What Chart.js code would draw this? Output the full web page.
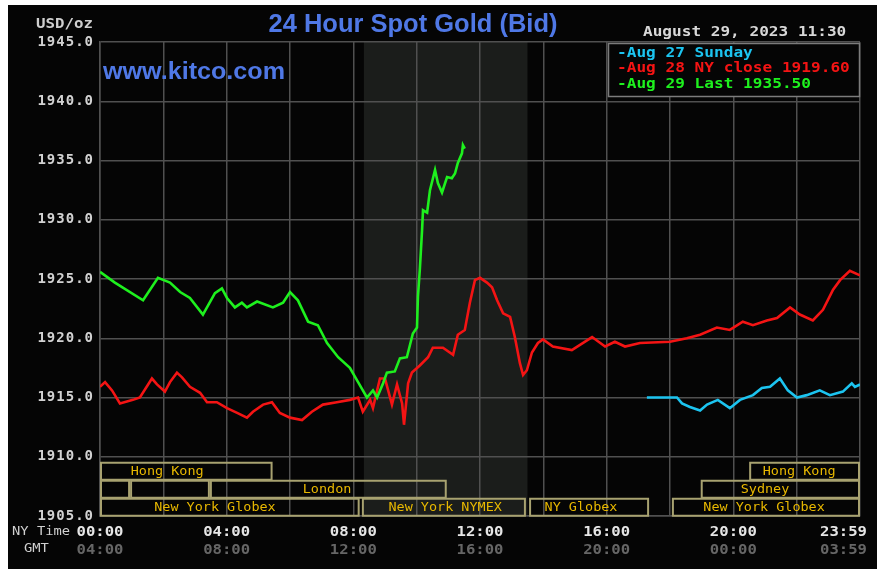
<html>
  <head>
    <script src="https://cdn.jsdelivr.net/npm/chart.js@4.4.0/dist/chart.umd.min.js"></script>
    <style>
      body { margin: 0; background: #fff; }
      #c { display: block; }
    </style>
  </head>
  <body>
    <canvas id="c" width="886" height="576"></canvas>
  </body>

  <script>
    // hours are NY time (0 = 00:00, 24 = 23:59), prices in USD/oz
    var greenH = [0, 0.47, 1.36, 1.83, 2.21, 2.53, 2.84, 3.25, 3.63, 3.85, 4.01, 4.26, 4.48, 4.64, 4.96, 5.46, 5.78, 6.0, 6.25, 6.57, 6.88, 7.17, 7.52, 7.89, 8.15, 8.43, 8.62, 8.75, 8.94, 9.06, 9.31, 9.47, 9.69, 9.88, 10.01, 10.04, 10.1, 10.17, 10.2, 10.33, 10.42, 10.58, 10.67, 10.8, 10.96, 11.11, 11.21, 11.3, 11.43, 11.46, 11.52];
    var greenP = [1925.6, 1924.7, 1923.2, 1925.1, 1924.7, 1923.9, 1923.4, 1922.0, 1923.8, 1924.2, 1923.4, 1922.6, 1923.0, 1922.6, 1923.1, 1922.6, 1923.0, 1923.9, 1923.2, 1921.4, 1921.1, 1919.6, 1918.4, 1917.5, 1916.3, 1915.0, 1915.6, 1915.0, 1916.2, 1917.1, 1917.2, 1918.3, 1918.4, 1920.4, 1920.9, 1923.5, 1925.8, 1929.1, 1930.8, 1930.6, 1932.5, 1934.2, 1933.1, 1932.3, 1933.6, 1933.5, 1933.9, 1934.8, 1935.6, 1936.3, 1936.0];

    var redH = [0, 0.16, 0.38, 0.63, 1.04, 1.26, 1.64, 1.8, 2.05, 2.21, 2.43, 2.59, 2.84, 3.16, 3.38, 3.69, 4.01, 4.33, 4.64, 4.83, 5.15, 5.43, 5.68, 6.0, 6.38, 6.69, 7.04, 7.48, 7.89, 8.15, 8.3, 8.53, 8.62, 8.84, 9.0, 9.22, 9.38, 9.54, 9.6, 9.73, 9.85, 10.1, 10.36, 10.51, 10.83, 11.15, 11.3, 11.52, 11.68, 11.84, 12.0, 12.22, 12.38, 12.54, 12.73, 12.95, 13.1, 13.26, 13.36, 13.48, 13.64, 13.83, 13.99, 14.3, 14.9, 15.54, 15.95, 16.26, 16.58, 17.05, 18.0, 18.53, 18.95, 19.48, 19.89, 20.3, 20.62, 21.06, 21.38, 21.79, 22.1, 22.51, 22.83, 23.15, 23.37, 23.68, 24.0];
    var redP = [1915.9, 1916.3, 1915.6, 1914.5, 1914.8, 1915.0, 1916.6, 1916.1, 1915.5, 1916.3, 1917.1, 1916.7, 1915.9, 1915.4, 1914.6, 1914.6, 1914.1, 1913.7, 1913.3, 1913.8, 1914.4, 1914.6, 1913.7, 1913.3, 1913.1, 1913.8, 1914.4, 1914.6, 1914.8, 1915.0, 1913.8, 1914.8, 1914.1, 1916.6, 1916.6, 1914.4, 1916.1, 1914.5, 1912.7, 1916.2, 1917.1, 1917.7, 1918.4, 1919.2, 1919.2, 1918.6, 1920.3, 1920.7, 1923.0, 1924.9, 1925.1, 1924.7, 1924.3, 1923.2, 1922.1, 1921.8, 1920.1, 1917.9, 1916.9, 1917.3, 1918.8, 1919.6, 1919.9, 1919.3, 1919.0, 1920.1, 1919.3, 1919.7, 1919.3, 1919.6, 1919.7, 1920.0, 1920.3, 1920.9, 1920.7, 1921.4, 1921.1, 1921.5, 1921.7, 1922.6, 1922.0, 1921.5, 1922.4, 1924.1, 1924.9, 1925.7, 1925.3];

    var blueH = [17.27, 18.0, 18.22, 18.38, 18.63, 18.95, 19.17, 19.51, 19.89, 20.21, 20.62, 20.9, 21.16, 21.47, 21.72, 22.01, 22.32, 22.73, 23.05, 23.46, 23.74, 23.84, 24.0];
    var blueP = [1915.0, 1915.0, 1915.0, 1914.5, 1914.2, 1913.9, 1914.4, 1914.8, 1914.1, 1914.8, 1915.2, 1915.8, 1915.9, 1916.6, 1915.6, 1915.0, 1915.2, 1915.6, 1915.2, 1915.5, 1916.2, 1915.9, 1916.1];

    var seriesLabels = ['Aug 27 Sunday', 'Aug 28 NY close 1919.60', 'Aug 29 Last 1935.50'];
    var seriesColors = ['#1cc4f0', '#f41414', '#1ef01e'];

    var tickHours = [0, 4, 8, 12, 16, 20, 24];
    var nyLabels = ['00:00', '04:00', '08:00', '12:00', '16:00', '20:00', '23:59'];
    var gmtLabels = ['04:00', '08:00', '12:00', '16:00', '20:00', '00:00', '03:59'];

    var nymexOpen = 8.333, nymexClose = 13.5;

    // trading sessions: row, start hour, end hour, label, label centre hour
    var sessRow   = [0, 0, 1, 1, 1, 1, 2, 2, 2, 2];
    var sessStart = [0, 20.5, 0, 0.95, 3.47, 18.97, 0, 8.27, 13.55, 18.06];
    var sessEnd   = [5.45, 24, 0.95, 3.47, 10.95, 24, 8.2, 13.45, 17.34, 24];
    var sessName  = ['Hong Kong', 'Hong Kong', '', '', 'London', 'Sydney', 'New York Globex', 'New York NYMEX', 'NY Globex', 'New York Globex'];
    var sessAt    = [2.12, 22.08, 0, 0, 7.17, 21.0, 3.63, 10.9, 15.19, 20.97];

    function pts(h, p) {
      var out = [];
      for (var i = 0; i < h.length; i++) out.push({x: h[i], y: p[i]});
      return out;
    }

    var MONO = 'DejaVu Sans Mono';

    // draw text, stretched sideways so each char is cw px wide (or to width w)
    function txt(ctx, s, x, y, font, color, align, cw, w) {
      ctx.save();
      ctx.letterSpacing = '0px';
      ctx.font = font;
      ctx.fillStyle = color;
      ctx.textBaseline = 'middle';
      ctx.textAlign = 'left';
      var m = ctx.measureText(s).width;
      var k = 1;
      if (w) k = w / m;
      else if (cw) k = cw * s.length / m;
      var left = x;
      if (align === 'right') left = x - m * k;
      if (align === 'center') left = x - m * k / 2;
      ctx.translate(left, y);
      ctx.scale(k, 1);
      ctx.fillText(s, 0, 0);
      ctx.restore();
    }

    var kitco = {
      id: 'kitco',
      beforeDraw: function(chart) {
        var ctx = chart.ctx, a = chart.chartArea, xs = chart.scales.x;
        ctx.save();
        ctx.fillStyle = '#fff';
        ctx.fillRect(0, 0, chart.width, chart.height);
        ctx.fillStyle = '#050505';
        ctx.fillRect(8, 5, 869, 564);
        // NYMEX hours shading
        var x1 = xs.getPixelForValue(nymexOpen), x2 = xs.getPixelForValue(nymexClose);
        ctx.fillStyle = '#1b1d1b';
        ctx.fillRect(x1, a.top, x2 - x1, a.bottom - a.top);
        ctx.restore();
        ctx.letterSpacing = '1px';
      },
      afterDraw: function(chart) {
        var ctx = chart.ctx, a = chart.chartArea, xs = chart.scales.x, ys = chart.scales.y;
        ctx.letterSpacing = '0px';
        var blue = '#4f78e6';

        txt(ctx, '24 Hour Spot Gold (Bid)', 413, 25, 'bold 26px "Liberation Sans"', blue, 'center', 0, 289);
        txt(ctx, 'www.kitco.com', 103, 73, 'bold 23px "Liberation Sans"', blue, 'left', 0, 182);
        txt(ctx, 'USD/oz', 36, 24, 'bold 14px ' + MONO, '#cfcfcf', 'left', 9.5);
        txt(ctx, 'August 29, 2023 11:30', 643, 32, 'bold 14px ' + MONO, '#d8d8d8', 'left', 9.68);

        // legend box
        ctx.save();
        ctx.fillStyle = '#050505';
        ctx.fillRect(608, 43, 252, 54);
        ctx.strokeStyle = '#7c7c7c';
        ctx.lineWidth = 1.5;
        ctx.strokeRect(608.5, 43.5, 251, 53);
        ctx.restore();
        for (var i = 0; i < seriesLabels.length; i++) {
          txt(ctx, '-' + seriesLabels[i], 617, 53 + i * 15.5, 'bold 14px ' + MONO, seriesColors[i], 'left', 9.7);
        }

        // trading session boxes
        var rowTop = ys.getPixelForValue(1910) + 6;
        ctx.save();
        ctx.strokeStyle = '#a8a270';
        ctx.lineWidth = 2;
        for (var j = 0; j < sessRow.length; j++) {
          var bx1 = xs.getPixelForValue(sessStart[j]), bx2 = xs.getPixelForValue(sessEnd[j]);
          var by = rowTop + sessRow[j] * 18;
          ctx.strokeRect(bx1 + 1, by, bx2 - bx1 - 2, 17);
          if (sessName[j]) {
            txt(ctx, sessName[j], xs.getPixelForValue(sessAt[j]), by + 9, '13px ' + MONO, '#e8b800', 'center', 8.1);
          }
        }
        ctx.restore();

        // time labels
        txt(ctx, 'NY Time', 12, 532, '13px ' + MONO, '#d0d0d0', 'left', 8.3);
        txt(ctx, 'GMT', 24, 549, '13px ' + MONO, '#d0d0d0', 'left', 8.3);
        for (var t = 0; t < tickHours.length; t++) {
          var px = xs.getPixelForValue(tickHours[t]);
          var al = 'center';
          if (t === tickHours.length - 1) { px = 867; al = 'right'; }
          txt(ctx, nyLabels[t], px, 532, 'bold 14px ' + MONO, '#e6e6e6', al, 9.4);
          txt(ctx, gmtLabels[t], px, 550, 'bold 14px ' + MONO, '#666666', al, 9.4);
        }
      }
    };

    new Chart(document.getElementById('c'), {
      type: 'line',
      data: {
        datasets: [
          { label: seriesLabels[2], data: pts(greenH, greenP), borderColor: seriesColors[2], order: 0 },
          { label: seriesLabels[1], data: pts(redH, redP), borderColor: seriesColors[1], order: 1 },
          { label: seriesLabels[0], data: pts(blueH, blueP), borderColor: seriesColors[0], order: 2 }
        ]
      },
      options: {
        responsive: false,
        animation: false,
        events: [],
        elements: {
          line: { borderWidth: 2.6, tension: 0, fill: false },
          point: { radius: 0 }
        },
        layout: { padding: { left: 10, top: 42, right: 26, bottom: 10 } },
        plugins: { legend: { display: false }, tooltip: { enabled: false } },
        scales: {
          x: {
            type: 'linear', min: 0, max: 24,
            ticks: { display: false, stepSize: 2 },
            grid: { color: '#505050', lineWidth: 1.5, drawTicks: false },
            border: { color: '#505050', width: 1.5 },
            afterFit: function(s) { s.height = 50; }
          },
          y: {
            min: 1905, max: 1945,
            ticks: {
              stepSize: 5, padding: 6, color: '#d2d2d2',
              font: { family: MONO, size: 14, weight: 'bold' },
              callback: function(v) { return v.toFixed(1); }
            },
            grid: { color: '#505050', lineWidth: 1.5, drawTicks: false },
            border: { color: '#505050', width: 1.5 },
            afterFit: function(s) { s.width = 90; }
          }
        }
      },
      plugins: [kitco]
    });
  </script>
</html>
